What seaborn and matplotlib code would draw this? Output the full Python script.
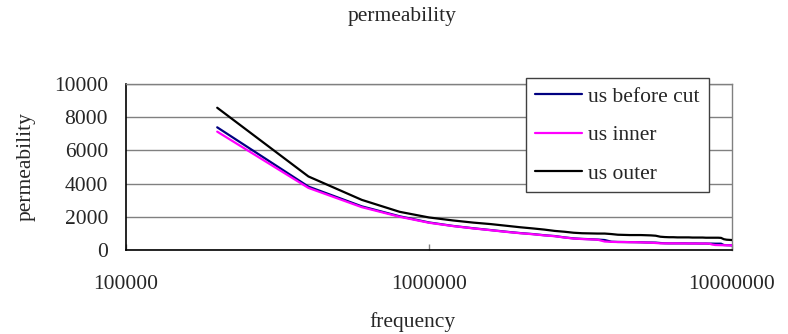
import numpy as np
import pandas as pd
import matplotlib
matplotlib.use("Agg")
import matplotlib.pyplot as plt
import seaborn as sns
from matplotlib.ticker import FixedLocator, FixedFormatter, NullLocator

# ---- data ----
frequency = [200000 * i for i in range(1, 51)]

us_before_cut = [7390, 3820, 2630, 2030, 1660, 1450, 1310, 1200, 1100, 1020,
                 960, 890, 840, 760, 700, 670, 650, 630, 600, 500,
                 485, 480, 475, 470, 465, 455, 450, 445, 420, 405,
                 400, 400, 400, 400, 400, 395, 395, 395, 390, 390,
                 390, 385, 385, 380, 380, 380, 300, 290, 285, 280]
us_inner = [7130, 3740, 2580, 2000, 1640, 1440, 1300, 1190, 1090, 1010,
            950, 880, 830, 750, 690, 660, 640, 620, 510, 490,
            480, 480, 470, 470, 460, 450, 440, 420, 400, 400,
            400, 400, 400, 395, 395, 395, 390, 390, 390, 390,
            385, 385, 330, 300, 295, 290, 285, 285, 280, 280]
us_outer = [8570, 4430, 3020, 2300, 1960, 1780, 1650, 1560, 1460, 1370,
            1300, 1230, 1150, 1100, 1040, 1010, 1000, 990, 990, 960,
            920, 910, 900, 900, 900, 890, 880, 860, 800, 780,
            770, 770, 760, 760, 760, 760, 750, 750, 750, 750,
            740, 740, 740, 740, 740, 730, 650, 620, 610, 600]

series_names = ["us before cut", "us inner", "us outer"]
x_ticks = [100000, 1000000, 10000000]
x_tick_labels = ["100000", "1000000", "10000000"]
y_ticks = [0, 2000, 4000, 6000, 8000, 10000]

df = pd.DataFrame({
    "frequency": frequency * 3,
    "permeability": us_before_cut + us_inner + us_outer,
    "series": [series_names[0]] * len(frequency) + [series_names[1]] * len(frequency)
              + [series_names[2]] * len(frequency),
})

sns.set_theme(style="white")
plt.rcParams["font.family"] = ["Liberation Serif", "DejaVu Serif"]

W, H = 788, 334
fig = plt.figure(figsize=(W / 100, H / 100), dpi=100)
L, R, T, B = 126, 732, 84, 250
ax = fig.add_axes([L / W, 1 - B / H, (R - L) / W, (B - T) / H])

palette = {"us before cut": "#000080", "us inner": "#FF00FF", "us outer": "#000000"}
sns.lineplot(data=df, x="frequency", y="permeability", hue="series",
             hue_order=series_names, palette=palette, linewidth=1.6, ax=ax,
             legend=True, zorder=3)

ax.set_xscale("log")
ax.set_xlim(100000, 10000000)
ax.set_ylim(0, 10000)
ax.xaxis.set_major_locator(FixedLocator(x_ticks))
ax.xaxis.set_major_formatter(FixedFormatter(x_tick_labels))
ax.xaxis.set_minor_locator(NullLocator())
ax.set_yticks(y_ticks)
ax.set_yticklabels([str(v) for v in y_ticks])

fs = 15.5
ax.tick_params(axis="x", direction="in", length=4, width=1, color="#808080",
               labelsize=fs, pad=18, bottom=True)
ax.tick_params(axis="y", length=0, labelsize=fs, pad=13, left=True)

ax.grid(axis="y", color="#808080", linewidth=1.0)
ax.grid(axis="x", visible=False)
for s in ["left", "bottom"]:
    ax.spines[s].set_color("black")
    ax.spines[s].set_linewidth(1.2)
for s in ["right", "top"]:
    ax.spines[s].set_color("#808080")
    ax.spines[s].set_linewidth(1.0)

ax.set_xlabel("frequency", fontsize=fs)
ax.xaxis.set_label_coords(412 / W, 1 - 322 / H, transform=fig.transFigure)
ax.xaxis.label.set_va("center")
ax.set_ylabel("permeability", fontsize=fs)
ax.yaxis.set_label_coords(26 / W, 1 - 167 / H, transform=fig.transFigure)
ax.yaxis.label.set_va("center")

fig.text(402 / W, 1 - 17 / H, "permeability", ha="center", va="center", fontsize=fs)

handles, labels = ax.get_legend_handles_labels()
leg = ax.legend(handles, labels, loc="upper left",
                bbox_to_anchor=(526 / W, 1 - 78 / H), bbox_transform=fig.transFigure,
                frameon=True, fancybox=False, shadow=False, framealpha=1,
                edgecolor="#404040", facecolor="white", fontsize=fs,
                handlelength=2.2, handletextpad=0.3, borderpad=0.4,
                labelspacing=0.86, borderaxespad=0)
leg.get_frame().set_linewidth(1.0)
leg.set_zorder(5)

fig.savefig("out.png", dpi=100)
